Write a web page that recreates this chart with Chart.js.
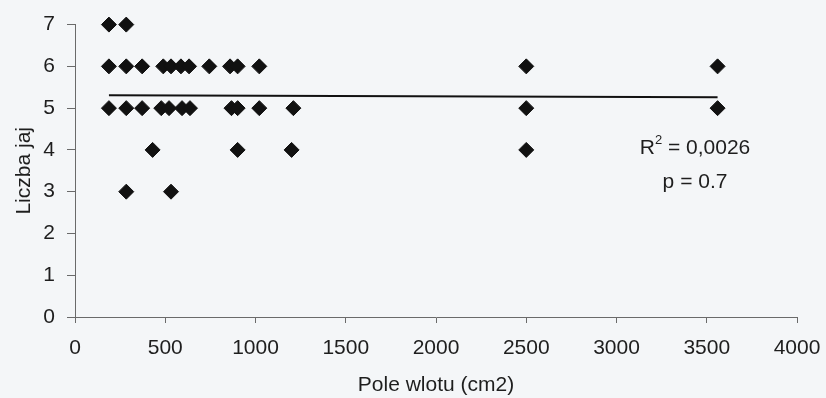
<!DOCTYPE html>
<html>
<head>
<meta charset="utf-8">
<script src="https://cdn.jsdelivr.net/npm/chart.js@4"></script>
<style>
  html, body { margin: 0; padding: 0; background: #f4f6f8; }
  #wrap { position: relative; width: 826px; height: 398px; }
</style>
</head>
<body>
<div id="wrap"><canvas id="eggChart"></canvas></div>
<script>
// Pole wlotu (cm2) vs Liczba jaj
const poleX = [
  188, 284,
  188, 284, 372, 489, 532, 587, 632, 744, 859, 901, 1021, 2500, 3560,
  188, 284, 372, 478, 521, 593, 637, 867, 901, 1021, 1210, 2500, 3560,
  430, 901, 1200, 2500,
  284, 532
];
const jajaY = [
  7, 7,
  6, 6, 6, 6, 6, 6, 6, 6, 6, 6, 6, 6, 6,
  5, 5, 5, 5, 5, 5, 5, 5, 5, 5, 5, 5, 5,
  4, 4, 4, 4,
  3, 3
];

// linear trend line ends
const trendX = [188, 3560];
const trendY = [5.31, 5.26];

const xTicks = [0, 500, 1000, 1500, 2000, 2500, 3000, 3500, 4000];
const yTicks = [0, 1, 2, 3, 4, 5, 6, 7];

const statsLines = ["R² = 0,0026", "p = 0.7"];

(() => {
    const ink = "#1e1e1e";
    const axisGray = "#6a6a6a";
    const fontFam = "'Liberation Sans', Arial, sans-serif";
    const fs = 21;

    const points = poleX.map((x, i) => ({ x: x, y: jajaY[i] }));
    const trend  = trendX.map((x, i) => ({ x: x, y: trendY[i] }));

    // draws the R²/p note inside the plot
    const statsNote = {
        id: "statsNote",
        afterDatasetsDraw(chart) {
            const { ctx, scales } = chart;
            const cx = scales.x.getPixelForValue(3435);
            ctx.save();
            ctx.fillStyle = ink;
            ctx.textBaseline = "middle";

            // first line with superscript 2
            const y1 = scales.y.getPixelForValue(4.03);
            const r = "R", rest = " = 0,0026";
            ctx.font = fs + "px " + fontFam;
            const wR = ctx.measureText(r).width;
            const wRest = ctx.measureText(rest).width;
            ctx.font = "13px " + fontFam;
            const wSup = ctx.measureText("2").width;
            const left = cx - (wR + wSup + wRest) / 2;
            ctx.textAlign = "left";
            ctx.font = fs + "px " + fontFam;
            ctx.fillText(r, left, y1);
            ctx.font = "13px " + fontFam;
            ctx.fillText("2", left + wR, y1 - 8);
            ctx.font = fs + "px " + fontFam;
            ctx.fillText(rest, left + wR + wSup, y1);

            const y2 = scales.y.getPixelForValue(3.22);
            ctx.textAlign = "center";
            ctx.fillText(statsLines[1], cx, y2);
            ctx.restore();
        }
    };

    new Chart(document.getElementById("eggChart"), {
        type: "scatter",
        data: {
            datasets: [
                {
                    label: "jaja",
                    data: points,
                    pointStyle: "rectRot",
                    pointRadius: 7.5,
                    backgroundColor: "#111",
                    borderColor: "#111",
                    borderWidth: 1,
                    clip: false
                },
                {
                    label: "trend",
                    type: "line",
                    data: trend,
                    borderColor: "#111",
                    borderWidth: 2,
                    pointRadius: 0,
                    fill: false,
                    clip: false
                }
            ]
        },
        options: {
            responsive: true,
            maintainAspectRatio: false,
            animation: false,
            layout: { padding: { top: 24, right: 29, left: 0, bottom: 0 } },
            plugins: {
                legend: { display: false },
                tooltip: { enabled: false }
            },
            scales: {
                x: {
                    type: "linear",
                    min: 0,
                    max: 4000,
                    afterFit(axis) {
                        axis.height = 81;
                        // label overhang is covered by the layout padding
                        axis.paddingLeft = 0;
                        axis.paddingRight = 0;
                    },
                    afterBuildTicks(axis) { axis.ticks = xTicks.map(v => ({ value: v })); },
                    border: { color: axisGray, width: 1 },
                    grid: { drawOnChartArea: false, tickLength: 6, color: axisGray },
                    ticks: {
                        color: ink,
                        padding: 13,
                        maxRotation: 0,
                        callback: v => String(v),
                        font: { family: fontFam, size: fs }
                    },
                    title: {
                        display: true,
                        text: "Pole wlotu (cm2)",
                        color: ink,
                        padding: { top: 0, bottom: 0 },
                        font: { family: fontFam, size: fs }
                    }
                },
                y: {
                    min: 0,
                    max: 7,
                    afterFit(axis) { axis.width = 75; },
                    afterBuildTicks(axis) { axis.ticks = yTicks.map(v => ({ value: v })); },
                    border: { color: axisGray, width: 1 },
                    grid: { drawOnChartArea: false, tickLength: 8, color: axisGray },
                    ticks: {
                        color: ink,
                        padding: 12,
                        callback: v => String(v),
                        font: { family: fontFam, size: fs }
                    },
                    title: {
                        display: true,
                        text: "Liczba jaj",
                        color: ink,
                        padding: { top: 12, bottom: 0 },
                        font: { family: fontFam, size: fs }
                    }
                }
            }
        },
        plugins: [statsNote]
    });
})();
</script>
</body>
</html>
